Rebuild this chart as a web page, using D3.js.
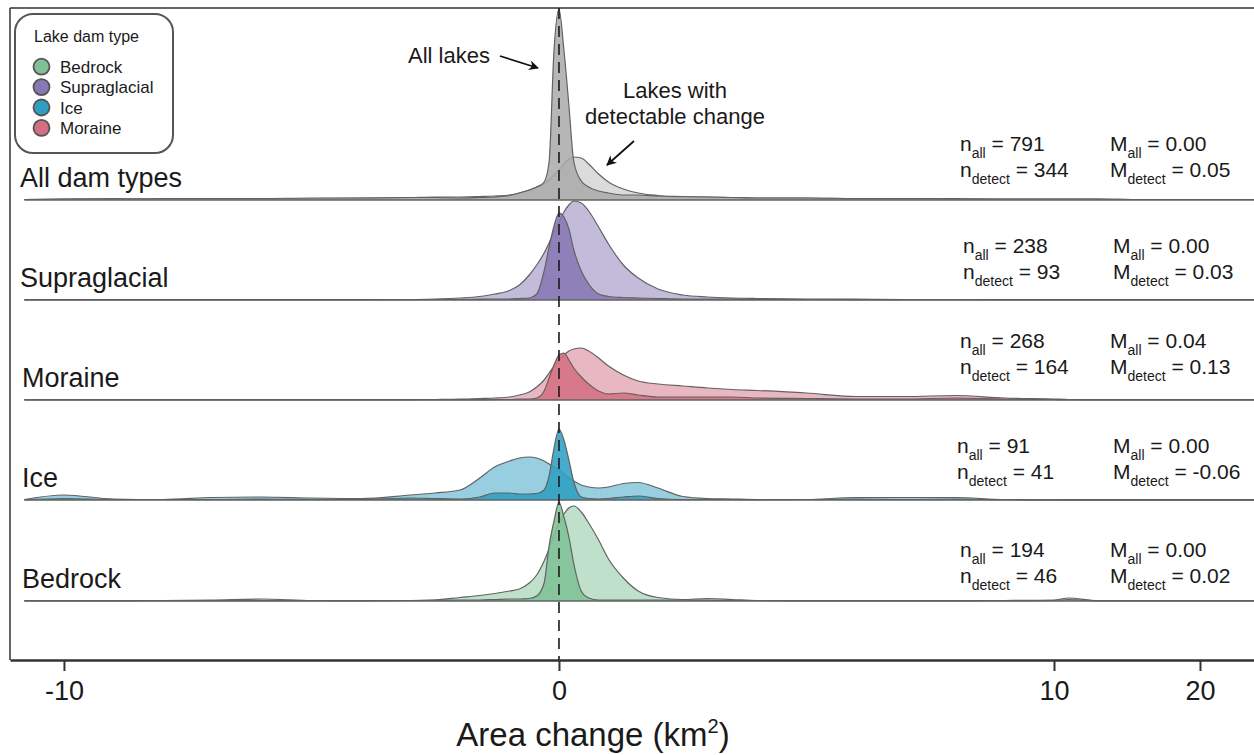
<!DOCTYPE html>
<html>
<head>
<meta charset="utf-8">
<script src="https://cdn.jsdelivr.net/npm/d3@7"></script>
<style>
  body { margin: 0; background: #fff; }
  text { font-family: "Liberation Sans", Arial, sans-serif; fill: #1a1a1a; }
</style>
</head>
<body>
<div id="chart"></div>
<script>
// ridge rows, top to bottom
const categories = ["All dam types", "Supraglacial", "Moraine", "Ice", "Bedrock"];
const tickValues = [-10, 0, 10, 20];

// area change (km2) where the densities were read
const xGrid = [-10.8, -10, -9, -8, -7, -6, -5, -4, -3, -2.5, -2, -1.6, -1.3, -1, -0.8, -0.6, -0.45, -0.3, -0.2, -0.1,
  0, 0.1, 0.2, 0.3, 0.45, 0.6, 0.8, 1, 1.3, 1.6, 2, 2.5, 3, 3.5, 4, 5, 6, 7, 8, 9, 10, 11, 13, 16, 20, 23.7];

// scaled densities: "all lakes" and "lakes with detectable change"
const allTypesAll    = [0.5, 1, 1, 1.5, 1.5, 1.5, 2, 2, 2.5, 2.5, 2, 2.5, 3, 4.5, 7, 10, 13, 18, 38, 150,
  191, 150, 95, 38, 19, 13, 9, 7, 5, 5, 4, 3.5, 3, 2.5, 2, 2, 1.5, 1.5, 1, 1, 1, 1, 1, 0.5, 0.5, 0.5];
const allTypesDetect = [0.5, 1, 1.5, 1, 1.5, 1, 1.5, 2, 2.5, 3, 3, 3.5, 4, 5, 7, 10, 13, 16, 20, 25,
  30, 36, 41, 43, 42, 36, 26, 18, 11, 7, 4.5, 3, 3, 2.5, 2, 2, 1.5, 1.5, 1.5, 1, 1, 1, 1, 0.5, 0.5, 0.5];

const supraAll    = [0.3, 0.3, 0.3, 0.3, 0.3, 0.3, 0.3, 0.3, 0.4, 0.5, 0.5, 0.8, 1, 1, 1.5, 2, 6, 29, 53, 74,
  87, 83, 71, 50, 29, 16, 6, 3.5, 2.5, 2, 1.5, 1, 1, 0.8, 0.6, 0.5, 0.4, 0.3, 0.3, 0.3, 0.3, 0.3, 0.3, 0.3, 0.3, 0.3];
const supraDetect = [0.3, 0.3, 0.3, 0.3, 0.3, 0.3, 0.3, 0.4, 0.5, 1, 2, 3.5, 6, 9.5, 15, 25, 35, 47, 57, 68,
  78, 88, 95, 99, 97, 89, 73, 56, 35, 22, 11, 5, 3, 2, 1.5, 1, 0.8, 0.5, 0.5, 0.4, 0.3, 0.3, 0.3, 0.3, 0.3, 0.3];

const moraineAll    = [0.3, 0.3, 0.3, 0.3, 0.3, 0.3, 0.3, 0.3, 0.3, 0.3, 0.3, 0.3, 0.5, 0.5, 1, 1, 2, 9, 22, 35,
  45, 47, 40, 32, 23, 16, 9, 6, 7, 5, 3, 3, 3, 3, 2, 1.5, 1, 1, 2, 1, 0.5, 0.3, 0.3, 0.3, 0.3, 0.3];
const moraineDetect = [0.3, 0.3, 0.3, 0.3, 0.3, 0.3, 0.3, 0.3, 0.3, 0.5, 0.8, 1.5, 2, 3, 5, 8, 13, 20, 27, 34,
  40, 45, 49, 51, 52, 49, 42, 34, 25, 19, 16, 14, 12, 10.5, 9.5, 7, 3.5, 3.5, 4.5, 2, 1, 0.5, 0.3, 0.3, 0.3, 0.3];

const iceAll    = [0, 1.5, 0.5, 0.5, 0.5, 1, 0.5, 0.5, 2, 1.5, 1, 3, 7, 7, 6, 6, 6.5, 10, 24, 52,
  71, 60, 40, 18, 3, 1.5, 1, 1.5, 3, 4, 1.5, 0.5, 0.5, 0.5, 0.3, 0.5, 1, 0.5, 1, 0.3, 0.2, 0.2, 0.2, 0.2, 0.2, 0.2];
const iceDetect = [0.5, 5, 1, 0.5, 2.5, 3, 2, 1.5, 5, 7, 10, 22, 33, 39, 42, 43, 42, 39, 36, 33,
  30, 26, 22, 19, 15, 13, 12, 13, 16.5, 17.5, 12, 3.5, 1.5, 1, 0.5, 0.5, 2.5, 2.5, 2.5, 0.5, 0.3, 0.2, 0.2, 0.2, 0.2, 0.2];

const bedrockAll    = [0.3, 0.3, 0.3, 0.3, 0.3, 0.3, 0.3, 0.3, 0.5, 0.8, 1, 1, 1.5, 2, 2, 2.5, 5, 18, 55, 80,
  99, 84, 64, 37, 10, 3, 1, 1, 1, 1, 1, 1, 0.8, 0.5, 0.5, 0.3, 0.3, 0.3, 0.3, 0.3, 0.5, 1.5, 0.3, 0.3, 0.3, 0.3];
const bedrockDetect = [0.3, 0.3, 0.3, 0.5, 1, 2, 0.5, 0.3, 0.5, 1, 3.5, 5.5, 7.5, 10, 12, 18, 26, 40, 52, 66,
  78, 87, 93, 95, 89, 78, 61, 42, 23, 10, 3.5, 1.5, 2.5, 1.5, 0.5, 0.3, 0.3, 0.3, 0.3, 0.5, 1, 3, 0.3, 0.3, 0.3, 0.3];

// summary labels per row
const nAll    = [791, 238, 268, 91, 194];
const nDetect = [344, 93, 164, 41, 46];
const mAll    = ["0.00", "0.00", "0.04", "0.00", "0.00"];
const mDetect = ["0.05", "0.03", "0.13", "-0.06", "0.02"];

const legendTypes  = ["Bedrock", "Supraglacial", "Ice", "Moraine"];
const legendColors = ["#80c295", "#8878b5", "#2f9fc1", "#d46f83"];

const rowColors = ["#a9a9a9", "#8878b5", "#d46f83", "#2f9fc1", "#80c295"];
const rowAll    = [allTypesAll, supraAll, moraineAll, iceAll, bedrockAll];
const rowDetect = [allTypesDetect, supraDetect, moraineDetect, iceDetect, bedrockDetect];

const W = 1254, H = 755;
const svg = d3.select("#chart").append("svg")
  .attr("width", W).attr("height", H);

// x is linear from -10 to 10, then squeezed out to 20
const x = d3.scaleLinear()
  .domain([-11.09, 10, 23.7])
  .range([10, 1054, 1254]);

const rowY = d3.scalePoint()
  .domain(categories)
  .range([200, 600]);

const h = d3.scaleLinear().domain([0, 100]).range([0, 100]);

const stroke = "#626262";

categories.forEach((cat, i) => {
  const base = rowY(cat) + (i === 4 ? 1 : 0);
  const g = svg.append("g");

  const area = d3.area()
    .x((d, j) => x(xGrid[j]))
    .y0(base)
    .y1(d => base - h(d))
    .curve(d3.curveMonotoneX);
  const line = area.lineY1();

  // detectable-change density behind, all-lakes density on top
  g.append("path").datum(rowDetect[i])
    .attr("d", area).attr("fill", rowColors[i]).attr("fill-opacity", i === 0 ? 0.42 : 0.5);
  g.append("path").datum(rowDetect[i])
    .attr("d", line).attr("fill", "none").attr("stroke", stroke).attr("stroke-width", 1.2);

  g.append("path").datum(rowAll[i])
    .attr("d", area).attr("fill", rowColors[i]).attr("fill-opacity", i === 0 ? 0.85 : 0.88);
  g.append("path").datum(rowAll[i])
    .attr("d", line).attr("fill", "none").attr("stroke", stroke).attr("stroke-width", 1.2);

  g.append("line")
    .attr("x1", x(xGrid[0])).attr("x2", W)
    .attr("y1", base).attr("y2", base)
    .attr("stroke", stroke).attr("stroke-width", 1.3);

  // row name
  svg.append("text")
    .attr("x", i < 2 ? 20 : 22).attr("y", base - 13)
    .attr("font-size", 27)
    .text(cat);
});

// stats text
const statX = [[960, 1110], [963, 1113], [960, 1110], [957, 1113], [960, 1110]];
const statY = [151, 253, 348, 453, 557];
categories.forEach((cat, i) => {
  const lines = [
    [["n", "all", " = " + nAll[i]], ["M", "all", " = " + mAll[i]]],
    [["n", "detect", " = " + nDetect[i]], ["M", "detect", " = " + mDetect[i]]]
  ];
  lines.forEach((pair, k) => {
    pair.forEach((parts, c) => {
      const t = svg.append("text")
        .attr("x", statX[i][c]).attr("y", statY[i] + k * 26)
        .attr("font-size", 21);
      t.append("tspan").text(parts[0]);
      t.append("tspan").attr("font-size", 14).attr("dy", 7).text(parts[1]);
      t.append("tspan").attr("dy", -7).text(parts[2]);
    });
  });
});

// frame
svg.append("line").attr("x1", 10).attr("x2", W).attr("y1", 8).attr("y2", 8)
  .attr("stroke", "#333").attr("stroke-width", 1.5);
svg.append("line").attr("x1", 10).attr("x2", 10).attr("y1", 8).attr("y2", 660)
  .attr("stroke", "#333").attr("stroke-width", 1.5);

// zero line
svg.append("line")
  .attr("x1", x(0)).attr("x2", x(0)).attr("y1", 8).attr("y2", 660)
  .attr("stroke", "#1a1a1a").attr("stroke-width", 1.6)
  .attr("stroke-dasharray", "11,7");

// x axis
const axis = svg.append("g")
  .attr("transform", "translate(0,660)")
  .call(d3.axisBottom(x).tickValues(tickValues).tickFormat(d => String(d))
    .tickSize(11).tickSizeOuter(0).tickPadding(10));
axis.select(".domain").attr("stroke", "#333").attr("stroke-width", 2.5);
axis.selectAll(".tick line").attr("stroke", "#333").attr("stroke-width", 2);
axis.selectAll(".tick text")
  .attr("font-size", 27).attr("fill", "#1a1a1a")
  .style("font-family", "'Liberation Sans', Arial, sans-serif");

const title = svg.append("text")
  .attr("x", 593).attr("y", 746)
  .attr("text-anchor", "middle")
  .attr("font-size", 33);
title.append("tspan").text("Area change (km");
title.append("tspan").attr("font-size", 20).attr("dy", -13).text("2");
title.append("tspan").attr("dy", 13).text(")");

// legend
const lg = svg.append("g");
lg.append("rect")
  .attr("x", 15).attr("y", 14).attr("width", 158).attr("height", 139)
  .attr("rx", 18).attr("fill", "#fff").attr("stroke", "#555").attr("stroke-width", 2);
lg.append("text").attr("x", 34).attr("y", 42).attr("font-size", 16).attr("fill", "#333")
  .text("Lake dam type");
legendTypes.forEach((name, i) => {
  const cy = 66.7 + i * 20.4;
  lg.append("circle").attr("cx", 41.5).attr("cy", cy).attr("r", 8)
    .attr("fill", legendColors[i]).attr("stroke", "#555").attr("stroke-width", 1.8);
  lg.append("text").attr("x", 60).attr("y", cy + 6).attr("font-size", 17).attr("fill", "#333")
    .text(name);
});

// annotations
svg.append("defs").append("marker")
  .attr("id", "arrow").attr("viewBox", "0 0 10 10")
  .attr("refX", 9).attr("refY", 5)
  .attr("markerWidth", 10).attr("markerHeight", 10)
  .attr("markerUnits", "userSpaceOnUse")
  .attr("orient", "auto")
  .append("path").attr("d", "M0,0 L10,5 L0,10 L3,5 Z").attr("fill", "#111");

svg.append("text").attr("x", 408).attr("y", 63).attr("font-size", 22).text("All lakes");
svg.append("line").attr("x1", 500).attr("y1", 56).attr("x2", 538).attr("y2", 68)
  .attr("stroke", "#111").attr("stroke-width", 1.7).attr("marker-end", "url(#arrow)");

svg.append("text").attr("x", 675).attr("y", 98).attr("text-anchor", "middle").attr("font-size", 22)
  .text("Lakes with");
svg.append("text").attr("x", 675).attr("y", 124).attr("text-anchor", "middle").attr("font-size", 22)
  .text("detectable change");
svg.append("line").attr("x1", 634).attr("y1", 141).attr("x2", 607).attr("y2", 165)
  .attr("stroke", "#111").attr("stroke-width", 1.7).attr("marker-end", "url(#arrow)");
</script>
</body>
</html>
